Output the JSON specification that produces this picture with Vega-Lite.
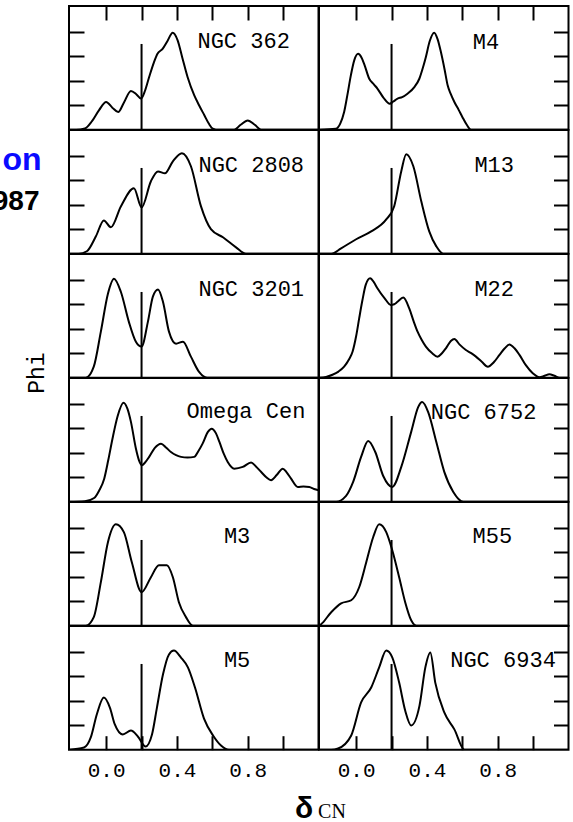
{
  "$schema": "https://vega.github.io/schema/vega-lite/v6.json",
  "background": "white",
  "padding": {"left": -9, "top": 4, "right": 0, "bottom": 6},
  "bounds": "flush",
  "spacing": 0,
  "columns": 2,
  "config": {
    "view": {"stroke": "black", "strokeWidth": 2, "fill": "white"},
    "axis": {"grid": false, "domain": false, "tickColor": "black", "tickWidth": 2}
  },
  "datasets": {
    "kde": [
      {"cluster": "NGC 362", "dcn": -0.21, "phi": 0}, {"cluster": "NGC 362", "dcn": -0.17, "phi": 0}, {"cluster": "NGC 362", "dcn": -0.12, "phi": 0.05}, {"cluster": "NGC 362", "dcn": -0.08, "phi": 0.35}, {"cluster": "NGC 362", "dcn": -0.04, "phi": 0.8}, {"cluster": "NGC 362", "dcn": 0.0, "phi": 1.13}, {"cluster": "NGC 362", "dcn": 0.035, "phi": 0.9}, {"cluster": "NGC 362", "dcn": 0.068, "phi": 0.72}, {"cluster": "NGC 362", "dcn": 0.1, "phi": 1.1}, {"cluster": "NGC 362", "dcn": 0.14, "phi": 1.58}, {"cluster": "NGC 362", "dcn": 0.17, "phi": 1.45}, {"cluster": "NGC 362", "dcn": 0.197, "phi": 1.27}, {"cluster": "NGC 362", "dcn": 0.22, "phi": 1.6}, {"cluster": "NGC 362", "dcn": 0.243, "phi": 2.15}, {"cluster": "NGC 362", "dcn": 0.27, "phi": 2.75}, {"cluster": "NGC 362", "dcn": 0.29, "phi": 3.1}, {"cluster": "NGC 362", "dcn": 0.319, "phi": 3.3}, {"cluster": "NGC 362", "dcn": 0.345, "phi": 3.6}, {"cluster": "NGC 362", "dcn": 0.376, "phi": 3.96}, {"cluster": "NGC 362", "dcn": 0.404, "phi": 3.65}, {"cluster": "NGC 362", "dcn": 0.43, "phi": 2.95}, {"cluster": "NGC 362", "dcn": 0.46, "phi": 2.15}, {"cluster": "NGC 362", "dcn": 0.498, "phi": 1.4}, {"cluster": "NGC 362", "dcn": 0.525, "phi": 1.0}, {"cluster": "NGC 362", "dcn": 0.555, "phi": 0.59}, {"cluster": "NGC 362", "dcn": 0.58, "phi": 0.25}, {"cluster": "NGC 362", "dcn": 0.602, "phi": 0.04}, {"cluster": "NGC 362", "dcn": 0.62, "phi": 0}, {"cluster": "NGC 362", "dcn": 0.724, "phi": 0}, {"cluster": "NGC 362", "dcn": 0.76, "phi": 0.2}, {"cluster": "NGC 362", "dcn": 0.8, "phi": 0.38}, {"cluster": "NGC 362", "dcn": 0.84, "phi": 0.2}, {"cluster": "NGC 362", "dcn": 0.875, "phi": 0}, {"cluster": "NGC 362", "dcn": 1.2, "phi": 0},

      {"cluster": "M4", "dcn": -0.21, "phi": 0}, {"cluster": "M4", "dcn": -0.115, "phi": 0.04}, {"cluster": "M4", "dcn": -0.09, "phi": 0.25}, {"cluster": "M4", "dcn": -0.068, "phi": 0.72}, {"cluster": "M4", "dcn": -0.05, "phi": 1.4}, {"cluster": "M4", "dcn": -0.03, "phi": 2.22}, {"cluster": "M4", "dcn": -0.01, "phi": 2.85}, {"cluster": "M4", "dcn": 0.011, "phi": 3.1}, {"cluster": "M4", "dcn": 0.03, "phi": 2.95}, {"cluster": "M4", "dcn": 0.045, "phi": 2.69}, {"cluster": "M4", "dcn": 0.074, "phi": 2.08}, {"cluster": "M4", "dcn": 0.1, "phi": 1.85}, {"cluster": "M4", "dcn": 0.121, "phi": 1.67}, {"cluster": "M4", "dcn": 0.155, "phi": 1.3}, {"cluster": "M4", "dcn": 0.19, "phi": 1.06}, {"cluster": "M4", "dcn": 0.21, "phi": 1.15}, {"cluster": "M4", "dcn": 0.234, "phi": 1.27}, {"cluster": "M4", "dcn": 0.26, "phi": 1.33}, {"cluster": "M4", "dcn": 0.29, "phi": 1.47}, {"cluster": "M4", "dcn": 0.33, "phi": 1.75}, {"cluster": "M4", "dcn": 0.357, "phi": 2.08}, {"cluster": "M4", "dcn": 0.38, "phi": 2.6}, {"cluster": "M4", "dcn": 0.394, "phi": 2.97}, {"cluster": "M4", "dcn": 0.415, "phi": 3.6}, {"cluster": "M4", "dcn": 0.441, "phi": 3.96}, {"cluster": "M4", "dcn": 0.46, "phi": 3.7}, {"cluster": "M4", "dcn": 0.479, "phi": 3.17}, {"cluster": "M4", "dcn": 0.5, "phi": 2.45}, {"cluster": "M4", "dcn": 0.517, "phi": 1.81}, {"cluster": "M4", "dcn": 0.535, "phi": 1.45}, {"cluster": "M4", "dcn": 0.555, "phi": 1.13}, {"cluster": "M4", "dcn": 0.58, "phi": 0.8}, {"cluster": "M4", "dcn": 0.6, "phi": 0.52}, {"cluster": "M4", "dcn": 0.625, "phi": 0.2}, {"cluster": "M4", "dcn": 0.649, "phi": 0}, {"cluster": "M4", "dcn": 1.2, "phi": 0},

      {"cluster": "NGC 2808", "dcn": -0.21, "phi": 0}, {"cluster": "NGC 2808", "dcn": -0.155, "phi": 0}, {"cluster": "NGC 2808", "dcn": -0.109, "phi": 0.1}, {"cluster": "NGC 2808", "dcn": -0.058, "phi": 0.71}, {"cluster": "NGC 2808", "dcn": -0.013, "phi": 1.36}, {"cluster": "NGC 2808", "dcn": 0.027, "phi": 1.08}, {"cluster": "NGC 2808", "dcn": 0.083, "phi": 1.93}, {"cluster": "NGC 2808", "dcn": 0.157, "phi": 2.67}, {"cluster": "NGC 2808", "dcn": 0.2, "phi": 1.89}, {"cluster": "NGC 2808", "dcn": 0.253, "phi": 2.96}, {"cluster": "NGC 2808", "dcn": 0.293, "phi": 3.36}, {"cluster": "NGC 2808", "dcn": 0.332, "phi": 3.28}, {"cluster": "NGC 2808", "dcn": 0.377, "phi": 3.77}, {"cluster": "NGC 2808", "dcn": 0.428, "phi": 4.1}, {"cluster": "NGC 2808", "dcn": 0.479, "phi": 3.57}, {"cluster": "NGC 2808", "dcn": 0.536, "phi": 1.93}, {"cluster": "NGC 2808", "dcn": 0.592, "phi": 1.0}, {"cluster": "NGC 2808", "dcn": 0.66, "phi": 0.67}, {"cluster": "NGC 2808", "dcn": 0.734, "phi": 0.26}, {"cluster": "NGC 2808", "dcn": 0.79, "phi": 0}, {"cluster": "NGC 2808", "dcn": 1.2, "phi": 0},

      {"cluster": "M13", "dcn": -0.21, "phi": 0}, {"cluster": "M13", "dcn": -0.14, "phi": 0}, {"cluster": "M13", "dcn": -0.085, "phi": 0.22}, {"cluster": "M13", "dcn": 0.0, "phi": 0.59}, {"cluster": "M13", "dcn": 0.085, "phi": 0.91}, {"cluster": "M13", "dcn": 0.17, "phi": 1.4}, {"cluster": "M13", "dcn": 0.215, "phi": 1.94}, {"cluster": "M13", "dcn": 0.255, "phi": 3.37}, {"cluster": "M13", "dcn": 0.283, "phi": 4.06}, {"cluster": "M13", "dcn": 0.323, "phi": 3.57}, {"cluster": "M13", "dcn": 0.368, "phi": 2.14}, {"cluster": "M13", "dcn": 0.413, "phi": 0.91}, {"cluster": "M13", "dcn": 0.453, "phi": 0.3}, {"cluster": "M13", "dcn": 0.492, "phi": 0}, {"cluster": "M13", "dcn": 1.2, "phi": 0},

      {"cluster": "NGC 3201", "dcn": -0.21, "phi": 0}, {"cluster": "NGC 3201", "dcn": -0.115, "phi": 0}, {"cluster": "NGC 3201", "dcn": -0.07, "phi": 0.45}, {"cluster": "NGC 3201", "dcn": -0.03, "phi": 1.88}, {"cluster": "NGC 3201", "dcn": 0.01, "phi": 3.43}, {"cluster": "NGC 3201", "dcn": 0.044, "phi": 4.04}, {"cluster": "NGC 3201", "dcn": 0.083, "phi": 3.51}, {"cluster": "NGC 3201", "dcn": 0.128, "phi": 2.29}, {"cluster": "NGC 3201", "dcn": 0.168, "phi": 1.47}, {"cluster": "NGC 3201", "dcn": 0.2, "phi": 1.27}, {"cluster": "NGC 3201", "dcn": 0.236, "phi": 2.29}, {"cluster": "NGC 3201", "dcn": 0.264, "phi": 3.31}, {"cluster": "NGC 3201", "dcn": 0.293, "phi": 3.6}, {"cluster": "NGC 3201", "dcn": 0.321, "phi": 3.1}, {"cluster": "NGC 3201", "dcn": 0.355, "phi": 1.88}, {"cluster": "NGC 3201", "dcn": 0.395, "phi": 1.39}, {"cluster": "NGC 3201", "dcn": 0.434, "phi": 1.47}, {"cluster": "NGC 3201", "dcn": 0.479, "phi": 0.86}, {"cluster": "NGC 3201", "dcn": 0.524, "phi": 0.25}, {"cluster": "NGC 3201", "dcn": 0.57, "phi": 0}, {"cluster": "NGC 3201", "dcn": 1.2, "phi": 0},

      {"cluster": "M22", "dcn": -0.21, "phi": 0}, {"cluster": "M22", "dcn": -0.17, "phi": 0.03}, {"cluster": "M22", "dcn": -0.134, "phi": 0.12}, {"cluster": "M22", "dcn": -0.1, "phi": 0.25}, {"cluster": "M22", "dcn": -0.068, "phi": 0.45}, {"cluster": "M22", "dcn": -0.04, "phi": 0.75}, {"cluster": "M22", "dcn": -0.02, "phi": 1.07}, {"cluster": "M22", "dcn": 0.0, "phi": 1.7}, {"cluster": "M22", "dcn": 0.017, "phi": 2.42}, {"cluster": "M22", "dcn": 0.035, "phi": 3.15}, {"cluster": "M22", "dcn": 0.054, "phi": 3.79}, {"cluster": "M22", "dcn": 0.079, "phi": 4.06}, {"cluster": "M22", "dcn": 0.1, "phi": 3.9}, {"cluster": "M22", "dcn": 0.12, "phi": 3.65}, {"cluster": "M22", "dcn": 0.16, "phi": 3.25}, {"cluster": "M22", "dcn": 0.196, "phi": 2.97}, {"cluster": "M22", "dcn": 0.215, "phi": 3.0}, {"cluster": "M22", "dcn": 0.234, "phi": 3.1}, {"cluster": "M22", "dcn": 0.266, "phi": 3.27}, {"cluster": "M22", "dcn": 0.3, "phi": 2.83}, {"cluster": "M22", "dcn": 0.325, "phi": 2.3}, {"cluster": "M22", "dcn": 0.347, "phi": 1.88}, {"cluster": "M22", "dcn": 0.37, "phi": 1.55}, {"cluster": "M22", "dcn": 0.394, "phi": 1.27}, {"cluster": "M22", "dcn": 0.43, "phi": 1.0}, {"cluster": "M22", "dcn": 0.46, "phi": 0.86}, {"cluster": "M22", "dcn": 0.485, "phi": 1.0}, {"cluster": "M22", "dcn": 0.507, "phi": 1.2}, {"cluster": "M22", "dcn": 0.535, "phi": 1.5}, {"cluster": "M22", "dcn": 0.555, "phi": 1.58}, {"cluster": "M22", "dcn": 0.585, "phi": 1.35}, {"cluster": "M22", "dcn": 0.62, "phi": 1.13}, {"cluster": "M22", "dcn": 0.65, "phi": 1.0}, {"cluster": "M22", "dcn": 0.677, "phi": 0.86}, {"cluster": "M22", "dcn": 0.71, "phi": 0.65}, {"cluster": "M22", "dcn": 0.744, "phi": 0.45}, {"cluster": "M22", "dcn": 0.78, "phi": 0.65}, {"cluster": "M22", "dcn": 0.81, "phi": 0.93}, {"cluster": "M22", "dcn": 0.84, "phi": 1.2}, {"cluster": "M22", "dcn": 0.866, "phi": 1.36}, {"cluster": "M22", "dcn": 0.895, "phi": 1.2}, {"cluster": "M22", "dcn": 0.923, "phi": 0.93}, {"cluster": "M22", "dcn": 0.96, "phi": 0.5}, {"cluster": "M22", "dcn": 0.998, "phi": 0.18}, {"cluster": "M22", "dcn": 1.036, "phi": 0.02}, {"cluster": "M22", "dcn": 1.065, "phi": 0.08}, {"cluster": "M22", "dcn": 1.092, "phi": 0.14}, {"cluster": "M22", "dcn": 1.12, "phi": 0.08}, {"cluster": "M22", "dcn": 1.149, "phi": 0}, {"cluster": "M22", "dcn": 1.2, "phi": 0},

      {"cluster": "Omega Cen", "dcn": -0.21, "phi": 0}, {"cluster": "Omega Cen", "dcn": -0.12, "phi": 0.02}, {"cluster": "Omega Cen", "dcn": -0.068, "phi": 0.15}, {"cluster": "Omega Cen", "dcn": -0.04, "phi": 0.45}, {"cluster": "Omega Cen", "dcn": -0.011, "phi": 0.94}, {"cluster": "Omega Cen", "dcn": 0.012, "phi": 1.7}, {"cluster": "Omega Cen", "dcn": 0.036, "phi": 2.58}, {"cluster": "Omega Cen", "dcn": 0.065, "phi": 3.5}, {"cluster": "Omega Cen", "dcn": 0.098, "phi": 4.04}, {"cluster": "Omega Cen", "dcn": 0.12, "phi": 3.8}, {"cluster": "Omega Cen", "dcn": 0.14, "phi": 3.26}, {"cluster": "Omega Cen", "dcn": 0.168, "phi": 2.17}, {"cluster": "Omega Cen", "dcn": 0.185, "phi": 1.7}, {"cluster": "Omega Cen", "dcn": 0.202, "phi": 1.49}, {"cluster": "Omega Cen", "dcn": 0.22, "phi": 1.6}, {"cluster": "Omega Cen", "dcn": 0.243, "phi": 1.83}, {"cluster": "Omega Cen", "dcn": 0.275, "phi": 2.2}, {"cluster": "Omega Cen", "dcn": 0.31, "phi": 2.37}, {"cluster": "Omega Cen", "dcn": 0.34, "phi": 2.2}, {"cluster": "Omega Cen", "dcn": 0.366, "phi": 2.03}, {"cluster": "Omega Cen", "dcn": 0.395, "phi": 1.9}, {"cluster": "Omega Cen", "dcn": 0.423, "phi": 1.83}, {"cluster": "Omega Cen", "dcn": 0.46, "phi": 1.8}, {"cluster": "Omega Cen", "dcn": 0.498, "phi": 1.83}, {"cluster": "Omega Cen", "dcn": 0.52, "phi": 2.05}, {"cluster": "Omega Cen", "dcn": 0.545, "phi": 2.37}, {"cluster": "Omega Cen", "dcn": 0.575, "phi": 2.85}, {"cluster": "Omega Cen", "dcn": 0.596, "phi": 2.98}, {"cluster": "Omega Cen", "dcn": 0.62, "phi": 2.8}, {"cluster": "Omega Cen", "dcn": 0.64, "phi": 2.44}, {"cluster": "Omega Cen", "dcn": 0.665, "phi": 1.95}, {"cluster": "Omega Cen", "dcn": 0.687, "phi": 1.62}, {"cluster": "Omega Cen", "dcn": 0.724, "phi": 1.35}, {"cluster": "Omega Cen", "dcn": 0.772, "phi": 1.42}, {"cluster": "Omega Cen", "dcn": 0.819, "phi": 1.6}, {"cluster": "Omega Cen", "dcn": 0.845, "phi": 1.45}, {"cluster": "Omega Cen", "dcn": 0.875, "phi": 1.22}, {"cluster": "Omega Cen", "dcn": 0.905, "phi": 1.0}, {"cluster": "Omega Cen", "dcn": 0.932, "phi": 0.88}, {"cluster": "Omega Cen", "dcn": 0.965, "phi": 1.1}, {"cluster": "Omega Cen", "dcn": 0.998, "phi": 1.35}, {"cluster": "Omega Cen", "dcn": 1.02, "phi": 1.2}, {"cluster": "Omega Cen", "dcn": 1.045, "phi": 0.94}, {"cluster": "Omega Cen", "dcn": 1.083, "phi": 0.6}, {"cluster": "Omega Cen", "dcn": 1.115, "phi": 0.62}, {"cluster": "Omega Cen", "dcn": 1.148, "phi": 0.6}, {"cluster": "Omega Cen", "dcn": 1.175, "phi": 0.52}, {"cluster": "Omega Cen", "dcn": 1.2, "phi": 0.47},

      {"cluster": "NGC 6752", "dcn": -0.21, "phi": 0}, {"cluster": "NGC 6752", "dcn": -0.113, "phi": 0}, {"cluster": "NGC 6752", "dcn": -0.057, "phi": 0.24}, {"cluster": "NGC 6752", "dcn": -0.017, "phi": 0.81}, {"cluster": "NGC 6752", "dcn": 0.028, "phi": 1.83}, {"cluster": "NGC 6752", "dcn": 0.068, "phi": 2.48}, {"cluster": "NGC 6752", "dcn": 0.108, "phi": 2.03}, {"cluster": "NGC 6752", "dcn": 0.153, "phi": 1.05}, {"cluster": "NGC 6752", "dcn": 0.204, "phi": 0.6}, {"cluster": "NGC 6752", "dcn": 0.255, "phi": 1.42}, {"cluster": "NGC 6752", "dcn": 0.311, "phi": 2.85}, {"cluster": "NGC 6752", "dcn": 0.351, "phi": 3.87}, {"cluster": "NGC 6752", "dcn": 0.373, "phi": 4.07}, {"cluster": "NGC 6752", "dcn": 0.407, "phi": 3.66}, {"cluster": "NGC 6752", "dcn": 0.453, "phi": 2.44}, {"cluster": "NGC 6752", "dcn": 0.498, "phi": 1.22}, {"cluster": "NGC 6752", "dcn": 0.549, "phi": 0.4}, {"cluster": "NGC 6752", "dcn": 0.606, "phi": 0}, {"cluster": "NGC 6752", "dcn": 1.2, "phi": 0},

      {"cluster": "M3", "dcn": -0.21, "phi": 0}, {"cluster": "M3", "dcn": -0.115, "phi": 0}, {"cluster": "M3", "dcn": -0.07, "phi": 0.35}, {"cluster": "M3", "dcn": -0.03, "phi": 1.78}, {"cluster": "M3", "dcn": 0.01, "phi": 3.41}, {"cluster": "M3", "dcn": 0.055, "phi": 4.14}, {"cluster": "M3", "dcn": 0.1, "phi": 3.82}, {"cluster": "M3", "dcn": 0.145, "phi": 2.59}, {"cluster": "M3", "dcn": 0.2, "phi": 1.37}, {"cluster": "M3", "dcn": 0.253, "phi": 1.98}, {"cluster": "M3", "dcn": 0.298, "phi": 2.47}, {"cluster": "M3", "dcn": 0.343, "phi": 2.47}, {"cluster": "M3", "dcn": 0.377, "phi": 1.98}, {"cluster": "M3", "dcn": 0.411, "phi": 0.96}, {"cluster": "M3", "dcn": 0.451, "phi": 0.35}, {"cluster": "M3", "dcn": 0.49, "phi": 0}, {"cluster": "M3", "dcn": 1.2, "phi": 0},

      {"cluster": "M55", "dcn": -0.21, "phi": 0}, {"cluster": "M55", "dcn": -0.198, "phi": 0.06}, {"cluster": "M55", "dcn": -0.141, "phi": 0.55}, {"cluster": "M55", "dcn": -0.085, "phi": 0.91}, {"cluster": "M55", "dcn": -0.028, "phi": 1.04}, {"cluster": "M55", "dcn": 0.017, "phi": 1.57}, {"cluster": "M55", "dcn": 0.057, "phi": 2.59}, {"cluster": "M55", "dcn": 0.096, "phi": 3.61}, {"cluster": "M55", "dcn": 0.13, "phi": 4.14}, {"cluster": "M55", "dcn": 0.17, "phi": 3.82}, {"cluster": "M55", "dcn": 0.204, "phi": 3.08}, {"cluster": "M55", "dcn": 0.243, "phi": 1.98}, {"cluster": "M55", "dcn": 0.277, "phi": 0.96}, {"cluster": "M55", "dcn": 0.311, "phi": 0.22}, {"cluster": "M55", "dcn": 0.34, "phi": 0}, {"cluster": "M55", "dcn": 1.2, "phi": 0},

      {"cluster": "M5", "dcn": -0.21, "phi": 0}, {"cluster": "M5", "dcn": -0.125, "phi": 0.09}, {"cluster": "M5", "dcn": -0.087, "phi": 0.5}, {"cluster": "M5", "dcn": -0.053, "phi": 1.44}, {"cluster": "M5", "dcn": -0.013, "phi": 2.13}, {"cluster": "M5", "dcn": 0.021, "phi": 1.72}, {"cluster": "M5", "dcn": 0.049, "phi": 1.03}, {"cluster": "M5", "dcn": 0.094, "phi": 0.62}, {"cluster": "M5", "dcn": 0.14, "phi": 0.78}, {"cluster": "M5", "dcn": 0.179, "phi": 0.54}, {"cluster": "M5", "dcn": 0.223, "phi": 0.13}, {"cluster": "M5", "dcn": 0.259, "phi": 0.62}, {"cluster": "M5", "dcn": 0.287, "phi": 1.72}, {"cluster": "M5", "dcn": 0.321, "phi": 3.07}, {"cluster": "M5", "dcn": 0.355, "phi": 3.89}, {"cluster": "M5", "dcn": 0.383, "phi": 4.05}, {"cluster": "M5", "dcn": 0.423, "phi": 3.76}, {"cluster": "M5", "dcn": 0.462, "phi": 3.36}, {"cluster": "M5", "dcn": 0.502, "phi": 2.54}, {"cluster": "M5", "dcn": 0.553, "phi": 1.27}, {"cluster": "M5", "dcn": 0.604, "phi": 0.58}, {"cluster": "M5", "dcn": 0.649, "phi": 0.17}, {"cluster": "M5", "dcn": 0.694, "phi": 0}, {"cluster": "M5", "dcn": 1.2, "phi": 0},

      {"cluster": "NGC 6934", "dcn": -0.21, "phi": 0}, {"cluster": "NGC 6934", "dcn": -0.141, "phi": 0}, {"cluster": "NGC 6934", "dcn": -0.102, "phi": 0.05}, {"cluster": "NGC 6934", "dcn": -0.028, "phi": 0.58}, {"cluster": "NGC 6934", "dcn": 0.028, "phi": 1.93}, {"cluster": "NGC 6934", "dcn": 0.085, "phi": 2.54}, {"cluster": "NGC 6934", "dcn": 0.13, "phi": 3.36}, {"cluster": "NGC 6934", "dcn": 0.17, "phi": 4.05}, {"cluster": "NGC 6934", "dcn": 0.204, "phi": 3.77}, {"cluster": "NGC 6934", "dcn": 0.243, "phi": 2.74}, {"cluster": "NGC 6934", "dcn": 0.277, "phi": 1.6}, {"cluster": "NGC 6934", "dcn": 0.311, "phi": 0.99}, {"cluster": "NGC 6934", "dcn": 0.358, "phi": 1.8}, {"cluster": "NGC 6934", "dcn": 0.391, "phi": 3.36}, {"cluster": "NGC 6934", "dcn": 0.419, "phi": 3.97}, {"cluster": "NGC 6934", "dcn": 0.447, "phi": 2.74}, {"cluster": "NGC 6934", "dcn": 0.498, "phi": 1.52}, {"cluster": "NGC 6934", "dcn": 0.555, "phi": 0.83}, {"cluster": "NGC 6934", "dcn": 0.612, "phi": 0}, {"cluster": "NGC 6934", "dcn": 1.2, "phi": 0}
    ]
  },
  "concat": [
    {
      "width": 249.5, "height": 123.7,
      "layer": [
        {"data": {"name": "kde"}, "transform": [{"filter": {"field": "cluster", "equal": "NGC 362"}}],
         "mark": {"type": "line", "color": "black", "strokeWidth": 2, "interpolate": "monotone", "clip": true},
         "encoding": {
           "x": {"field": "dcn", "type": "quantitative", "scale": {"domain": [-0.21, 1.2], "nice": false, "zero": false},
                 "axis": {"orient": "top", "values": [0, 0.2, 0.4, 0.6, 0.8, 1], "labels": false, "tickSize": -14, "title": null}},
           "y": {"field": "phi", "type": "quantitative", "scale": {"domain": [0, 5.05], "nice": false},
                 "axis": {"orient": "left", "values": [1, 2, 3, 4], "labels": false, "tickSize": -15, "title": null}}}},
        {"data": {"values": [{}]}, "mark": {"type": "rule", "color": "black", "strokeWidth": 2},
         "encoding": {"x": {"datum": 0.2}, "y": {"datum": 0}, "y2": {"datum": 3.5}}},
        {"data": {"values": [{}]}, "mark": {"type": "text", "font": "Liberation Mono", "fontSize": 22, "color": "black", "align": "center", "baseline": "middle"},
         "encoding": {"x": {"datum": 0.777}, "y": {"datum": 3.62}, "text": {"value": "NGC 362"}}}
      ]
    },
    {
      "width": 249.5, "height": 123.7,
      "layer": [
        {"data": {"name": "kde"}, "transform": [{"filter": {"field": "cluster", "equal": "M4"}}],
         "mark": {"type": "line", "color": "black", "strokeWidth": 2, "interpolate": "monotone", "clip": true},
         "encoding": {
           "x": {"field": "dcn", "type": "quantitative", "scale": {"domain": [-0.21, 1.2], "nice": false, "zero": false},
                 "axis": {"orient": "top", "values": [0, 0.2, 0.4, 0.6, 0.8, 1], "labels": false, "tickSize": -14, "title": null}},
           "y": {"field": "phi", "type": "quantitative", "scale": {"domain": [0, 5.05], "nice": false},
                 "axis": {"orient": "right", "values": [1, 2, 3, 4], "labels": false, "tickSize": -15, "title": null}}}},
        {"data": {"values": [{}]}, "mark": {"type": "rule", "color": "black", "strokeWidth": 2},
         "encoding": {"x": {"datum": 0.2}, "y": {"datum": 0}, "y2": {"datum": 3.5}}},
        {"data": {"values": [{}]}, "mark": {"type": "text", "font": "Liberation Mono", "fontSize": 22, "color": "black", "align": "center", "baseline": "middle"},
         "encoding": {"x": {"datum": 0.734}, "y": {"datum": 3.6}, "text": {"value": "M4"}}}
      ]
    },
    {
      "width": 249.5, "height": 123.7,
      "layer": [
        {"data": {"name": "kde"}, "transform": [{"filter": {"field": "cluster", "equal": "NGC 2808"}}],
         "mark": {"type": "line", "color": "black", "strokeWidth": 2, "interpolate": "monotone", "clip": true},
         "encoding": {
           "x": {"field": "dcn", "type": "quantitative", "scale": {"domain": [-0.21, 1.2], "nice": false, "zero": false},
                 "axis": {"orient": "bottom", "ticks": false, "labels": false, "title": "987", "titleFont": "Liberation Sans", "titleFontWeight": "bold", "titleFontSize": 28, "titleColor": "black", "titleAngle": 0, "titleAlign": "right", "titleBaseline": "alphabetic", "titleX": -30, "titleY": -44.4}},
           "y": {"field": "phi", "type": "quantitative", "scale": {"domain": [0, 5.05], "nice": false},
                 "axis": {"orient": "left", "values": [1, 2, 3, 4], "labels": false, "tickSize": -15, "title": "on", "titleFont": "Liberation Sans", "titleFontWeight": "bold", "titleFontSize": 32, "titleColor": "#0a0aff", "titleAngle": 0, "titleAlign": "right", "titleBaseline": "alphabetic", "titleX": -28, "titleY": 39.3}}}},
        {"data": {"values": [{}]}, "mark": {"type": "rule", "color": "black", "strokeWidth": 2},
         "encoding": {"x": {"datum": 0.2}, "y": {"datum": 0}, "y2": {"datum": 3.5}}},
        {"data": {"values": [{}]}, "mark": {"type": "text", "font": "Liberation Mono", "fontSize": 22, "color": "black", "align": "center", "baseline": "middle"},
         "encoding": {"x": {"datum": 0.82}, "y": {"datum": 3.62}, "text": {"value": "NGC 2808"}}}
      ]
    },
    {
      "width": 249.5, "height": 123.7,
      "layer": [
        {"data": {"name": "kde"}, "transform": [{"filter": {"field": "cluster", "equal": "M13"}}],
         "mark": {"type": "line", "color": "black", "strokeWidth": 2, "interpolate": "monotone", "clip": true},
         "encoding": {
           "x": {"field": "dcn", "type": "quantitative", "scale": {"domain": [-0.21, 1.2], "nice": false, "zero": false}, "axis": {"ticks": false, "labels": false, "title": null}},
           "y": {"field": "phi", "type": "quantitative", "scale": {"domain": [0, 5.05], "nice": false},
                 "axis": {"orient": "right", "values": [1, 2, 3, 4], "labels": false, "tickSize": -15, "title": null}}}},
        {"data": {"values": [{}]}, "mark": {"type": "rule", "color": "black", "strokeWidth": 2},
         "encoding": {"x": {"datum": 0.2}, "y": {"datum": 0}, "y2": {"datum": 3.5}}},
        {"data": {"values": [{}]}, "mark": {"type": "text", "font": "Liberation Mono", "fontSize": 22, "color": "black", "align": "center", "baseline": "middle"},
         "encoding": {"x": {"datum": 0.78}, "y": {"datum": 3.62}, "text": {"value": "M13"}}}
      ]
    },
    {
      "width": 249.5, "height": 123.7,
      "layer": [
        {"data": {"name": "kde"}, "transform": [{"filter": {"field": "cluster", "equal": "NGC 3201"}}],
         "mark": {"type": "line", "color": "black", "strokeWidth": 2, "interpolate": "monotone", "clip": true},
         "encoding": {
           "x": {"field": "dcn", "type": "quantitative", "scale": {"domain": [-0.21, 1.2], "nice": false, "zero": false}, "axis": {"ticks": false, "labels": false, "title": null}},
           "y": {"field": "phi", "type": "quantitative", "scale": {"domain": [0, 5.05], "nice": false},
                 "axis": {"orient": "left", "values": [1, 2, 3, 4], "labels": false, "tickSize": -15, "title": "Phi", "titleFont": "Liberation Mono", "titleFontWeight": "normal", "titleFontSize": 23, "titleColor": "black", "titleAngle": 270, "titleAlign": "center", "titleBaseline": "alphabetic", "titleX": -26, "titleY": 118.6}}}},
        {"data": {"values": [{}]}, "mark": {"type": "rule", "color": "black", "strokeWidth": 2},
         "encoding": {"x": {"datum": 0.2}, "y": {"datum": 0}, "y2": {"datum": 3.5}}},
        {"data": {"values": [{}]}, "mark": {"type": "text", "font": "Liberation Mono", "fontSize": 22, "color": "black", "align": "center", "baseline": "middle"},
         "encoding": {"x": {"datum": 0.82}, "y": {"datum": 3.62}, "text": {"value": "NGC 3201"}}}
      ]
    },
    {
      "width": 249.5, "height": 123.7,
      "layer": [
        {"data": {"name": "kde"}, "transform": [{"filter": {"field": "cluster", "equal": "M22"}}],
         "mark": {"type": "line", "color": "black", "strokeWidth": 2, "interpolate": "monotone", "clip": true},
         "encoding": {
           "x": {"field": "dcn", "type": "quantitative", "scale": {"domain": [-0.21, 1.2], "nice": false, "zero": false}, "axis": {"ticks": false, "labels": false, "title": null}},
           "y": {"field": "phi", "type": "quantitative", "scale": {"domain": [0, 5.05], "nice": false},
                 "axis": {"orient": "right", "values": [1, 2, 3, 4], "labels": false, "tickSize": -15, "title": null}}}},
        {"data": {"values": [{}]}, "mark": {"type": "rule", "color": "black", "strokeWidth": 2},
         "encoding": {"x": {"datum": 0.2}, "y": {"datum": 0}, "y2": {"datum": 3.5}}},
        {"data": {"values": [{}]}, "mark": {"type": "text", "font": "Liberation Mono", "fontSize": 22, "color": "black", "align": "center", "baseline": "middle"},
         "encoding": {"x": {"datum": 0.78}, "y": {"datum": 3.62}, "text": {"value": "M22"}}}
      ]
    },
    {
      "width": 249.5, "height": 123.7,
      "layer": [
        {"data": {"name": "kde"}, "transform": [{"filter": {"field": "cluster", "equal": "Omega Cen"}}],
         "mark": {"type": "line", "color": "black", "strokeWidth": 2, "interpolate": "monotone", "clip": true},
         "encoding": {
           "x": {"field": "dcn", "type": "quantitative", "scale": {"domain": [-0.21, 1.2], "nice": false, "zero": false}, "axis": {"ticks": false, "labels": false, "title": null}},
           "y": {"field": "phi", "type": "quantitative", "scale": {"domain": [0, 5.05], "nice": false},
                 "axis": {"orient": "left", "values": [1, 2, 3, 4], "labels": false, "tickSize": -15, "title": null}}}},
        {"data": {"values": [{}]}, "mark": {"type": "rule", "color": "black", "strokeWidth": 2},
         "encoding": {"x": {"datum": 0.2}, "y": {"datum": 0}, "y2": {"datum": 3.5}}},
        {"data": {"values": [{}]}, "mark": {"type": "text", "font": "Liberation Mono", "fontSize": 22, "color": "black", "align": "center", "baseline": "middle"},
         "encoding": {"x": {"datum": 0.79}, "y": {"datum": 3.69}, "text": {"value": "Omega Cen"}}}
      ]
    },
    {
      "width": 249.5, "height": 123.7,
      "layer": [
        {"data": {"name": "kde"}, "transform": [{"filter": {"field": "cluster", "equal": "NGC 6752"}}],
         "mark": {"type": "line", "color": "black", "strokeWidth": 2, "interpolate": "monotone", "clip": true},
         "encoding": {
           "x": {"field": "dcn", "type": "quantitative", "scale": {"domain": [-0.21, 1.2], "nice": false, "zero": false}, "axis": {"ticks": false, "labels": false, "title": null}},
           "y": {"field": "phi", "type": "quantitative", "scale": {"domain": [0, 5.05], "nice": false},
                 "axis": {"orient": "right", "values": [1, 2, 3, 4], "labels": false, "tickSize": -15, "title": null}}}},
        {"data": {"values": [{}]}, "mark": {"type": "rule", "color": "black", "strokeWidth": 2},
         "encoding": {"x": {"datum": 0.2}, "y": {"datum": 0}, "y2": {"datum": 3.5}}},
        {"data": {"values": [{}]}, "mark": {"type": "text", "font": "Liberation Mono", "fontSize": 22, "color": "black", "align": "center", "baseline": "middle"},
         "encoding": {"x": {"datum": 0.72}, "y": {"datum": 3.65}, "text": {"value": "NGC 6752"}}}
      ]
    },
    {
      "width": 249.5, "height": 123.7,
      "layer": [
        {"data": {"name": "kde"}, "transform": [{"filter": {"field": "cluster", "equal": "M3"}}],
         "mark": {"type": "line", "color": "black", "strokeWidth": 2, "interpolate": "monotone", "clip": true},
         "encoding": {
           "x": {"field": "dcn", "type": "quantitative", "scale": {"domain": [-0.21, 1.2], "nice": false, "zero": false}, "axis": {"ticks": false, "labels": false, "title": null}},
           "y": {"field": "phi", "type": "quantitative", "scale": {"domain": [0, 5.05], "nice": false},
                 "axis": {"orient": "left", "values": [1, 2, 3, 4], "labels": false, "tickSize": -15, "title": null}}}},
        {"data": {"values": [{}]}, "mark": {"type": "rule", "color": "black", "strokeWidth": 2},
         "encoding": {"x": {"datum": 0.2}, "y": {"datum": 0}, "y2": {"datum": 3.5}}},
        {"data": {"values": [{}]}, "mark": {"type": "text", "font": "Liberation Mono", "fontSize": 22, "color": "black", "align": "center", "baseline": "middle"},
         "encoding": {"x": {"datum": 0.74}, "y": {"datum": 3.65}, "text": {"value": "M3"}}}
      ]
    },
    {
      "width": 249.5, "height": 123.7,
      "layer": [
        {"data": {"name": "kde"}, "transform": [{"filter": {"field": "cluster", "equal": "M55"}}],
         "mark": {"type": "line", "color": "black", "strokeWidth": 2, "interpolate": "monotone", "clip": true},
         "encoding": {
           "x": {"field": "dcn", "type": "quantitative", "scale": {"domain": [-0.21, 1.2], "nice": false, "zero": false}, "axis": {"ticks": false, "labels": false, "title": null}},
           "y": {"field": "phi", "type": "quantitative", "scale": {"domain": [0, 5.05], "nice": false},
                 "axis": {"orient": "right", "values": [1, 2, 3, 4], "labels": false, "tickSize": -15, "title": null}}}},
        {"data": {"values": [{}]}, "mark": {"type": "rule", "color": "black", "strokeWidth": 2},
         "encoding": {"x": {"datum": 0.2}, "y": {"datum": 0}, "y2": {"datum": 3.5}}},
        {"data": {"values": [{}]}, "mark": {"type": "text", "font": "Liberation Mono", "fontSize": 22, "color": "black", "align": "center", "baseline": "middle"},
         "encoding": {"x": {"datum": 0.77}, "y": {"datum": 3.65}, "text": {"value": "M55"}}}
      ]
    },
    {
      "width": 249.5, "height": 123.7,
      "layer": [
        {"data": {"name": "kde"}, "transform": [{"filter": {"field": "cluster", "equal": "M5"}}],
         "mark": {"type": "line", "color": "black", "strokeWidth": 2, "interpolate": "monotone", "clip": true},
         "encoding": {
           "x": {"field": "dcn", "type": "quantitative", "scale": {"domain": [-0.21, 1.2], "nice": false, "zero": false},
                 "axis": {"orient": "bottom", "values": [0, 0.2, 0.4, 0.6, 0.8, 1], "tickSize": -14, "labelExpr": "indexof(['0.0', '0.4', '0.8'], format(datum.value, '.1f')) >= 0 ? format(datum.value, '.1f') : ''", "labelFont": "Liberation Mono", "labelFontSize": 21, "labelColor": "black", "labelBaseline": "middle", "labelPadding": 35, "labelOverlap": false, "labelFlush": false,
                          "title": "δ", "titleFont": "Liberation Sans", "titleFontWeight": "bold", "titleFontSize": 30, "titleColor": "black", "titleAlign": "center", "titleBaseline": "alphabetic", "titleX": 234.5, "titleY": 68}},
           "y": {"field": "phi", "type": "quantitative", "scale": {"domain": [0, 5.05], "nice": false},
                 "axis": {"orient": "left", "values": [1, 2, 3, 4], "labels": false, "tickSize": -15, "title": null}}}},
        {"data": {"values": [{}]}, "mark": {"type": "rule", "color": "black", "strokeWidth": 2},
         "encoding": {"x": {"datum": 0.2}, "y": {"datum": 0}, "y2": {"datum": 3.5}}},
        {"data": {"values": [{}]}, "mark": {"type": "text", "font": "Liberation Mono", "fontSize": 22, "color": "black", "align": "center", "baseline": "middle"},
         "encoding": {"x": {"datum": 0.74}, "y": {"datum": 3.65}, "text": {"value": "M5"}}}
      ]
    },
    {
      "width": 249.5, "height": 123.7,
      "layer": [
        {"data": {"name": "kde"}, "transform": [{"filter": {"field": "cluster", "equal": "NGC 6934"}}],
         "mark": {"type": "line", "color": "black", "strokeWidth": 2, "interpolate": "monotone", "clip": true},
         "encoding": {
           "x": {"field": "dcn", "type": "quantitative", "scale": {"domain": [-0.21, 1.2], "nice": false, "zero": false},
                 "axis": {"orient": "bottom", "values": [0, 0.2, 0.4, 0.6, 0.8, 1], "tickSize": -14, "labelExpr": "indexof(['0.0', '0.4', '0.8'], format(datum.value, '.1f')) >= 0 ? format(datum.value, '.1f') : ''", "labelFont": "Liberation Mono", "labelFontSize": 21, "labelColor": "black", "labelBaseline": "middle", "labelPadding": 35, "labelOverlap": false, "labelFlush": false,
                          "title": "CN", "titleFont": "Liberation Serif", "titleFontWeight": "normal", "titleFontSize": 20, "titleColor": "black", "titleAlign": "center", "titleBaseline": "alphabetic", "titleX": 12.5, "titleY": 68}},
           "y": {"field": "phi", "type": "quantitative", "scale": {"domain": [0, 5.05], "nice": false},
                 "axis": {"orient": "right", "values": [1, 2, 3, 4], "labels": false, "tickSize": -15, "title": null}}}},
        {"data": {"values": [{}]}, "mark": {"type": "rule", "color": "black", "strokeWidth": 2},
         "encoding": {"x": {"datum": 0.2}, "y": {"datum": 0}, "y2": {"datum": 3.5}}},
        {"data": {"values": [{}]}, "mark": {"type": "text", "font": "Liberation Mono", "fontSize": 22, "color": "black", "align": "center", "baseline": "middle"},
         "encoding": {"x": {"datum": 0.83}, "y": {"datum": 3.65}, "text": {"value": "NGC 6934"}}}
      ]
    }
  ]
}
